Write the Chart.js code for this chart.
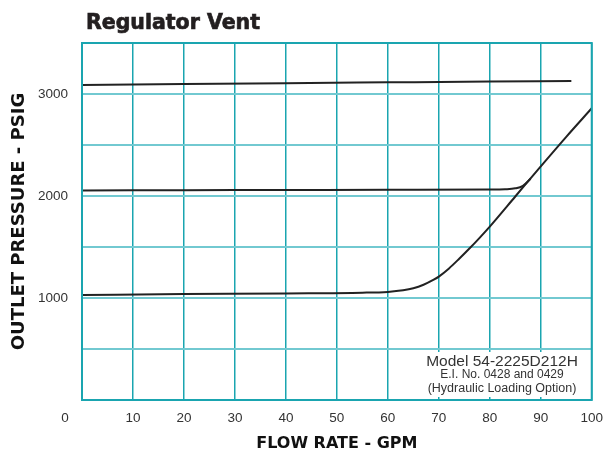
<!DOCTYPE html>
<html>
<head>
<meta charset="utf-8">
<script src="https://cdn.jsdelivr.net/npm/chart.js@4.4.1/dist/chart.umd.min.js"></script>
<style>
  html, body { margin: 0; padding: 0; background: #fff; }
  #wrap { width: 613px; height: 454px; position: relative; }
</style>
</head>
<body>
<div id="wrap"><canvas id="chart" width="613" height="454"></canvas></div>
<script>
// flow rate (GPM) and outlet pressure (PSIG)
const flowTop = [0, 20, 40, 60, 80, 96];
const pressTop = [3088, 3097, 3106, 3114, 3122, 3128];

const flowMid = [0, 20, 40, 60, 80, 83, 85, 86.5, 88];
const pressMid = [2055, 2057, 2059, 2061, 2063, 2066, 2075, 2100, 2170];

const flowLow = [0, 20, 40, 55, 60, 63, 65, 67, 69, 70, 72, 74, 76, 78, 80, 85, 90, 95, 100];
const pressLow = [1030, 1038, 1045, 1052, 1060, 1075, 1095, 1130, 1180, 1210, 1290, 1385, 1485, 1590, 1700, 1995, 2290, 2580, 2860];

const yLabels = [1000, 2000, 3000];
const noteLines = ['Model 54-2225D212H', 'E.I. No. 0428 and 0429', '(Hydraulic Loading Option)'];

const teal = '#1aa5b0';
const tealLight = '#72c9d1';

function pts(xs, ys) {
    return xs.map((x, i) => ({ x: x, y: ys[i] }));
}

const curve = {
    borderColor: '#222',
    borderWidth: 2,
    pointRadius: 0,
    showLine: true,
    fill: false,
    cubicInterpolationMode: 'monotone'
};

const extras = {
    id: 'extras',
    afterDraw(chart) {
        const ctx = chart.ctx;
        const a = chart.chartArea;
        ctx.save();
        // title
        ctx.fillStyle = '#231f20';
        ctx.strokeStyle = '#231f20';
        ctx.lineWidth = 0.7;
        ctx.font = 'bold 20.5px "DejaVu Sans"';
        ctx.textAlign = 'left';
        ctx.textBaseline = 'alphabetic';
        ctx.fillText('Regulator Vent', 86, 29);
        ctx.strokeText('Regulator Vent', 86, 29);
        // origin label
        ctx.font = '13.5px "Liberation Sans"';
        ctx.fillStyle = '#333';
        ctx.textAlign = 'center';
        ctx.textBaseline = 'middle';
        ctx.fillText('0', 65, 418);
        // note box
        ctx.fillStyle = '#fff';
        ctx.fillRect(392, 352, a.right - 393, 45);
        ctx.fillStyle = '#333';
        ctx.font = '15.5px "Liberation Sans"';
        ctx.fillText(noteLines[0], 502, 362);
        ctx.font = '12px "Liberation Sans"';
        ctx.fillText(noteLines[1], 502, 375);
        ctx.font = '12.5px "Liberation Sans"';
        ctx.fillText(noteLines[2], 502, 389);
        // border
        ctx.strokeStyle = teal;
        ctx.lineWidth = 2;
        ctx.strokeRect(a.left, a.top, a.right - a.left, a.bottom - a.top);
        ctx.restore();
    }
};

new Chart(document.getElementById('chart'), {
    type: 'scatter',
    data: {
        datasets: [
            Object.assign({ data: pts(flowTop, pressTop) }, curve),
            Object.assign({ data: pts(flowMid, pressMid) }, curve),
            Object.assign({ data: pts(flowLow, pressLow) }, curve)
        ]
    },
    options: {
        responsive: false,
        animation: false,
        layout: { padding: { left: 0, right: 21, top: 43, bottom: 0 } },
        plugins: {
            legend: { display: false },
            tooltip: { enabled: false }
        },
        scales: {
            x: {
                type: 'linear',
                min: 0,
                max: 100,
                afterFit(s) { s.height = 54; },
                ticks: {
                    stepSize: 10,
                    padding: 10,
                    color: '#333',
                    font: { family: 'Liberation Sans', size: 13.5 },
                    callback: v => (v === 0 ? '' : v)
                },
                grid: { color: teal, lineWidth: 1.5, drawTicks: false },
                border: { display: false },
                title: {
                    display: true,
                    text: 'FLOW RATE - GPM',
                    color: '#111',
                    font: { family: 'DejaVu Sans', size: 16, weight: 'bold' },
                    padding: { top: 0, bottom: 1 }
                }
            },
            y: {
                type: 'linear',
                min: 0,
                max: 3500,
                afterFit(s) { s.width = 82; },
                ticks: {
                    stepSize: 500,
                    padding: 14,
                    color: '#333',
                    font: { family: 'Liberation Sans', size: 13.5 },
                    callback: v => (yLabels.includes(v) ? v : '')
                },
                grid: { color: tealLight, lineWidth: 2, drawTicks: false },
                border: { display: false },
                title: {
                    display: true,
                    text: 'OUTLET PRESSURE - PSIG',
                    color: '#111',
                    font: { family: 'DejaVu Sans', size: 18, weight: 'bold' },
                    padding: { top: 9, bottom: 0 }
                }
            }
        }
    },
    plugins: [extras]
});
</script>
</body>
</html>
